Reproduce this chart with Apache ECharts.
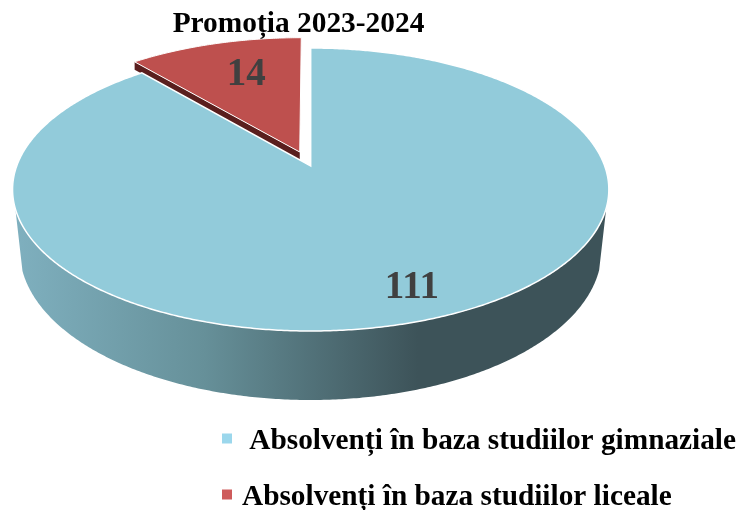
<!DOCTYPE html>
<html><head><meta charset="utf-8">
<style>html,body{margin:0;padding:0;background:#fff}#c{width:742px;height:510px}</style>
<script src="https://cdn.jsdelivr.net/npm/echarts@6/dist/echarts.min.js"></script>
</head><body><div id="c"></div>
<script>
const chartTitle = 'Promoția 2023-2024';
const categories = [' Absolvenți în baza studiilor gimnaziale', 'Absolvenți în baza studiilor liceale'];
const values = [111, 14];
const topColors = ['#92CBDA', '#BE504E'];
const legendColors = ['#9BD7EC', '#CE5B5B'];
const serif = '"Liberation Serif","Times New Roman",serif';

const total = values[0] + values[1];

// perspective projection of the pie's unit disc
const P = {cx: 310.7, cy: 166, a: 294, b: 137.6, k: 0.166};
function proj(X, Y) {
  const w = 1 + P.k * Y;
  return [P.cx + P.a * X / w, P.cy - P.b * Y / w];
}
function polar(deg, r, ox, oy) {
  const t = deg * Math.PI / 180;
  return proj((ox || 0) + r * Math.sin(t), (oy || 0) + r * Math.cos(t));
}
function arc(from, to, ox, oy) {
  const pts = [], n = Math.ceil(Math.abs(to - from) * 2);
  for (let i = 0; i <= n; i++) pts.push(polar(from + (to - from) * i / n, 1, ox, oy));
  return pts;
}
function lower(p) {
  return [310.5 + (p[0] - 310.5) * 0.976, p[1] + 62 + (p[1] - 208) * 0.057];
}

function renderBlue(params, api) {
  const v = api.value(0);
  const span = v / total * 360;
  const top = [proj(0, 0)].concat(arc(0, span));
  const front = arc(0, span).filter(p => p[1] >= 208);
  const side = front.concat(front.slice().reverse().map(lower));
  const lab = polar(span / 2, 0.805);
  return {type: 'group', children: [
    {type: 'polygon', shape: {points: side}, style: {
      fill: new echarts.graphic.LinearGradient(14, 0, 608, 0, [
        {offset: 0, color: '#7FB0BF'},
        {offset: 0.32, color: '#669099'},
        {offset: 0.68, color: '#3D5359'},
        {offset: 1, color: '#3D5359'}], true)}},
    {type: 'polygon', shape: {points: top}, style: {fill: topColors[0], stroke: '#fff', lineWidth: 1.5}},
    {type: 'text', style: {x: lab[0] + 8, y: lab[1] + 3, text: String(v), fill: '#404040',
      font: 'bold 39px ' + serif, align: 'center', verticalAlign: 'middle'}}
  ]};
}

function renderRed(params, api) {
  const v = api.value(0);
  const span = v / total * 360;
  const midT = -span / 2 * Math.PI / 180;
  const ox = 0.11 * Math.sin(midT), oy = 0.11 * Math.cos(midT);
  const apex = proj(ox, oy);
  const rim = arc(-span, 0, ox, oy);
  const left = rim[0];
  const drop = p => [p[0], p[1] + 8];
  const lab = polar(-span / 2, 0.706, ox, oy);
  return {type: 'group', children: [
    {type: 'polygon', shape: {points: [left, apex, drop(apex), drop(left)]}, style: {fill: '#5A1F1E'}},
    {type: 'polygon', shape: {points: [apex].concat(rim)}, style: {fill: topColors[1], stroke: '#fff', lineWidth: 1}},
    {type: 'text', style: {x: lab[0] + 9, y: lab[1] + 2, text: String(v), fill: '#404040',
      font: 'bold 39px ' + serif, align: 'center', verticalAlign: 'middle'}}
  ]};
}

const chart = echarts.init(document.getElementById('c'), null, {renderer: 'canvas'});
chart.setOption({
  animation: false,
  backgroundColor: '#fff',
  title: {text: chartTitle, left: 293.5, top: 5, textAlign: 'center',
    textStyle: {fontFamily: serif, fontWeight: 'bold', fontSize: 29.4, color: '#000'}},
  legend: {
    left: 222, top: 427, height: 200, orient: 'vertical', itemWidth: 10, itemHeight: 10, itemGap: 27,
    selectedMode: false, padding: 0,
    formatter: name => '{a|' + name + '}',
    textStyle: {fontFamily: serif, fontWeight: 'bold', fontSize: 29.3, color: '#000',
      rich: {a: {fontFamily: serif, fontWeight: 'bold', fontSize: 29.3, color: '#000', padding: [6, 0, 0, 5]}}},
    data: categories.map((n, i) => ({name: n, icon: 'rect', itemStyle: {color: legendColors[i]}}))
  },
  series: [
    {type: 'custom', name: categories[1], coordinateSystem: 'none', silent: true, z: 2,
     itemStyle: {color: legendColors[1]}, data: [[values[1]]], renderItem: renderRed},
    {type: 'custom', name: categories[0], coordinateSystem: 'none', silent: true, z: 3,
     itemStyle: {color: legendColors[0]}, data: [[values[0]]], renderItem: renderBlue}
  ]
});
</script></body></html>
